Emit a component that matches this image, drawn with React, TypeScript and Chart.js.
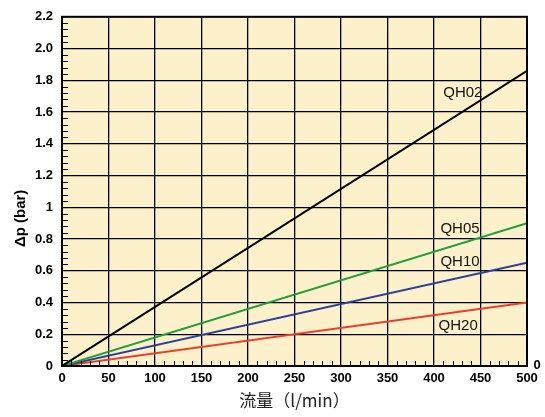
import React, { useEffect, useRef } from "react";
import { Chart, registerables } from "chart.js";

Chart.register(...registerables);

const flow = [0, 500];
const seriesNames = ["QH02", "QH05", "QH10", "QH20"];
const qh02 = [0, 1.86];
const qh05 = [0, 0.9];
const qh10 = [0, 0.65];
const qh20 = [0, 0.4];
const seriesColors = ["#000000", "#1f9e3a", "#2b3f9e", "#ea3f2b"];
const yTickLabels: Record<string, string> = {
  "0": "0", "0.2": "0.2", "0.4": "0.4", "0.6": "0.6", "0.8": "0.8", "1": "1",
  "1.2": "1.2", "1.4": "1.4", "1.6": "1.6", "1.8": "1.8", "2": "2.0", "2.2": "2.2",
};
const yTitle = "Δp (bar)";
const xTitle = "流量（l/min）";
// label anchors in data units
const labelFlow = [431, 428, 428, 426];
const labelDp = [1.72, 0.867, 0.655, 0.252];
// y title anchor (value on the Δp axis where it is centred)
const yTitleDp = 0.93;

const FONT = "'Liberation Sans', Arial, Helvetica, sans-serif";

const decoPlugin = {
  id: "deco",
  beforeDraw(chart: any) {
    const { ctx, chartArea } = chart;
    ctx.save();
    ctx.fillStyle = "#fdf1cb";
    ctx.fillRect(chartArea.left, chartArea.top, chartArea.right - chartArea.left, chartArea.bottom - chartArea.top);
    ctx.restore();
  },
  afterDraw(chart: any) {
    const { ctx, chartArea, scales } = chart;
    const xs = scales.x, ys = scales.y;
    ctx.save();
    ctx.strokeStyle = "#000";
    ctx.lineWidth = 1;
    for (let v = 10; v < 500; v += 10) {
      if (v % 50 === 0) continue;
      const px = Math.round(xs.getPixelForValue(v)) + 0.5;
      ctx.beginPath();
      ctx.moveTo(px, chartArea.bottom);
      ctx.lineTo(px, chartArea.bottom - 5);
      ctx.stroke();
    }
    for (let i = 1; i < 55; i++) {
      if (i % 5 === 0) continue;
      const py = Math.round(ys.getPixelForValue(i * 0.04)) + 0.5;
      ctx.beginPath();
      ctx.moveTo(chartArea.left, py);
      ctx.lineTo(chartArea.left + 6, py);
      ctx.stroke();
    }
    ctx.lineWidth = 2;
    ctx.strokeRect(chartArea.left, chartArea.top, chartArea.right - chartArea.left, chartArea.bottom - chartArea.top);
    ctx.fillStyle = "#111";
    ctx.font = `15px ${FONT}`;
    ctx.textAlign = "center";
    ctx.textBaseline = "middle";
    seriesNames.forEach((n, i) => {
      ctx.fillText(n, xs.getPixelForValue(labelFlow[i]), ys.getPixelForValue(labelDp[i]));
    });
    ctx.font = `bold 13px ${FONT}`;
    ctx.fillStyle = "#000";
    ctx.fillText("0", chartArea.right + 10, chartArea.bottom - 1);
    // y title
    ctx.save();
    ctx.translate(chartArea.left - 41, ys.getPixelForValue(yTitleDp));
    ctx.rotate(-Math.PI / 2);
    ctx.font = `bold 15px ${FONT}`;
    ctx.fillText(yTitle, 0, 0);
    ctx.restore();
    ctx.restore();
  },
};

export default function App() {
  const ref = useRef<HTMLCanvasElement>(null);
  useEffect(() => {
    const mk = (vals: number[]) => flow.map((f, i) => ({ x: f, y: vals[i] }));
    const all = [qh02, qh05, qh10, qh20];
    const chart = new Chart(ref.current!, {
      type: "line",
      data: {
        datasets: all.map((vals, i) => ({
          label: seriesNames[i],
          data: mk(vals),
          borderColor: seriesColors[i],
          borderWidth: 2,
          pointRadius: 0,
          fill: false,
          tension: 0,
        })),
      },
      options: {
        responsive: false,
        animation: false,
        layout: { padding: { top: 16, right: 18, left: 0, bottom: 0 } },
        plugins: { legend: { display: false }, tooltip: { enabled: false } },
        scales: {
          x: {
            type: "linear",
            min: 0,
            max: 500,
            afterFit: (s: any) => { s.height = 51; },
            ticks: {
              stepSize: 50,
              padding: 5,
              color: "#000",
              font: { family: FONT, size: 13, weight: "bold" },
              maxRotation: 0,
            },
            grid: { color: "#000", lineWidth: 1.3, drawTicks: false },
            border: { display: false },
            title: {
              display: true,
              text: xTitle,
              color: "#222",
              font: { family: "'Noto Sans CJK JP', 'Noto Sans', sans-serif", size: 17 },
              padding: { top: 0, bottom: 6 },
            },
          },
          y: {
            type: "linear",
            min: 0,
            max: 2.2,
            afterFit: (s: any) => { s.width = 62; },
            ticks: {
              stepSize: 0.2,
              padding: 9,
              color: "#000",
              font: { family: FONT, size: 13, weight: "bold" },
              callback: (v: any) => {
                const k = String(Math.round(Number(v) * 10) / 10);
                return yTickLabels[k] ?? k;
              },
            },
            grid: { color: "#000", lineWidth: 1.3, drawTicks: false },
            border: { display: false },
            title: { display: false },
          },
        },
      },
      plugins: [decoPlugin],
    } as any);
    return () => chart.destroy();
  }, []);
  return (
    <div style={{ position: "absolute", left: 0, top: 0, width: 545, height: 417, background: "#fff" }}>
      <canvas ref={ref} width={545} height={417} style={{ width: 545, height: 417 }} />
    </div>
  );
}
